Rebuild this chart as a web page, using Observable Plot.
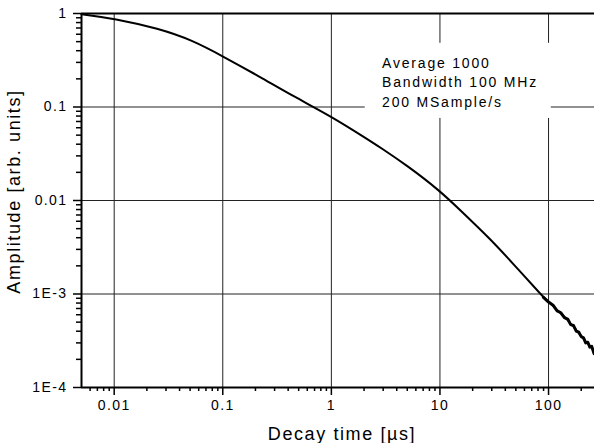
<!DOCTYPE html>
<html><head><meta charset="utf-8">
<script src="https://cdn.jsdelivr.net/npm/d3@7"></script>
<script src="https://cdn.jsdelivr.net/npm/@observablehq/plot@0.6"></script>
<style>
body{margin:0;background:#fff}
#chart svg{display:block}
#chart [aria-label="x-axis tick label"] text,
#chart [aria-label="y-axis tick label"] text{letter-spacing:1.4px}
#chart .note text{letter-spacing:1.8px}
#chart .title text{letter-spacing:1.6px}
</style>
</head><body><div id="chart"></div>
<script>
const time = [0.005, 0.01, 0.0258, 0.0523, 0.1, 0.222, 0.447, 1, 2.13, 2.82, 4.97, 10, 15.5, 29.0, 44.4, 89.8, 100, 110, 120, 130, 140, 150, 160, 170, 180, 190, 200, 210, 220, 230, 240, 250, 263];
const amplitude = [0.983, 0.885, 0.69, 0.518, 0.349, 0.209, 0.13, 0.0794, 0.0456, 0.037, 0.0237, 0.0127, 0.00781, 0.00389, 0.00228, 0.00092, 0.00082, 0.00076, 0.00066, 0.00063, 0.00056, 0.00054, 0.00047, 0.00046, 0.00040, 0.00039, 0.00035, 0.00034, 0.00030, 0.000305, 0.00027, 0.000275, 0.00023];
const xTicks = [0.01, 0.1, 1, 10, 100];
const xTickLabels = ["0.01", "0.1", "1", "10", "100"];
const yTicks = [1, 0.1, 0.01, 0.001, 0.0001];
const yTickLabels = ["1", "0.1", "0.01", "1E-3", "1E-4"];
const noteLines = ["Average 1000", "Bandwidth 100 MHz", "200 MSample/s"];
const xTitle = "Decay time [\u00b5s]";
const yTitle = "Amplitude [arb. units]";

const xDomain = [0.005, 265];
const yDomain = [1e-4, 1];
function minorTicks([lo, hi]) {
  const out = [];
  for (let e = Math.floor(Math.log10(lo)); e <= Math.ceil(Math.log10(hi)); e++)
    for (let m = 2; m <= 9; m++) { const v = m * Math.pow(10, e); if (v > lo && v < hi) out.push(v); }
  return out;
}
const data = time.map((t, i) => ({t, a: amplitude[i]}));
const tail = data.filter(d => d.t >= 89.8);

const chart = Plot.plot({
  width: 594, height: 443,
  marginLeft: 81, marginRight: 0, marginTop: 13, marginBottom: 56,
  style: {fontFamily: "'Liberation Sans', Arial, sans-serif", fontSize: "14px", color: "#000", background: "#fff"},
  x: {type: "log", domain: xDomain, label: null},
  y: {type: "log", domain: yDomain, label: null},
  marks: [
    Plot.ruleX(xTicks, {stroke: "#222", strokeWidth: 1}),
    Plot.ruleY(yTicks, {stroke: "#222", strokeWidth: 1}),
    Plot.rect([0], {x1: 2.05, x2: 106, y1: 0.0755, y2: 0.48, fill: "white"}),
    Plot.text([noteLines.join("\n")], {x: 2.93, y: 0.37, textAnchor: "start", lineAnchor: "top", fontSize: 14, lineHeight: 1.4, fill: "#000", className: "note"}),
    Plot.line(data, {x: "t", y: "a", strokeWidth: 2, stroke: "#000", curve: "basis"}),
    Plot.line(tail, {x: "t", y: "a", strokeWidth: 3, stroke: "#000", curve: "linear"}),
    Plot.ruleY([1], {strokeWidth: 2, stroke: "#000"}),
    Plot.ruleY([1e-4], {strokeWidth: 2, stroke: "#000"}),
    Plot.ruleX([xDomain[0]], {strokeWidth: 2, stroke: "#000"}),
    Plot.axisX(xTicks, {anchor: "bottom", tickSize: 8, tickPadding: 5, strokeWidth: 1.5, tickFormat: d => xTickLabels[xTicks.indexOf(d)], label: null, fontSize: 14}),
    Plot.axisX(minorTicks(xDomain), {anchor: "bottom", tickSize: 4, strokeWidth: 1.5, tickFormat: () => "", label: null}),
    Plot.axisY(yTicks, {anchor: "left", tickSize: 8, tickPadding: 6, strokeWidth: 1.5, tickFormat: d => yTickLabels[yTicks.indexOf(d)], label: null, fontSize: 14}),
    Plot.axisY(minorTicks(yDomain), {anchor: "left", tickSize: 5, strokeWidth: 1.5, tickFormat: () => "", label: null}),
    Plot.text([xTitle], {frameAnchor: "bottom", dx: 4, dy: 47, fontSize: 18, textAnchor: "middle", lineAnchor: "middle", fill: "#000", className: "title"}),
    Plot.text([yTitle], {frameAnchor: "left", dx: -67, dy: -9, rotate: -90, fontSize: 18, textAnchor: "middle", lineAnchor: "middle", fill: "#000", className: "title"})
  ]
});
document.getElementById("chart").appendChild(chart);
</script>
</body></html>
